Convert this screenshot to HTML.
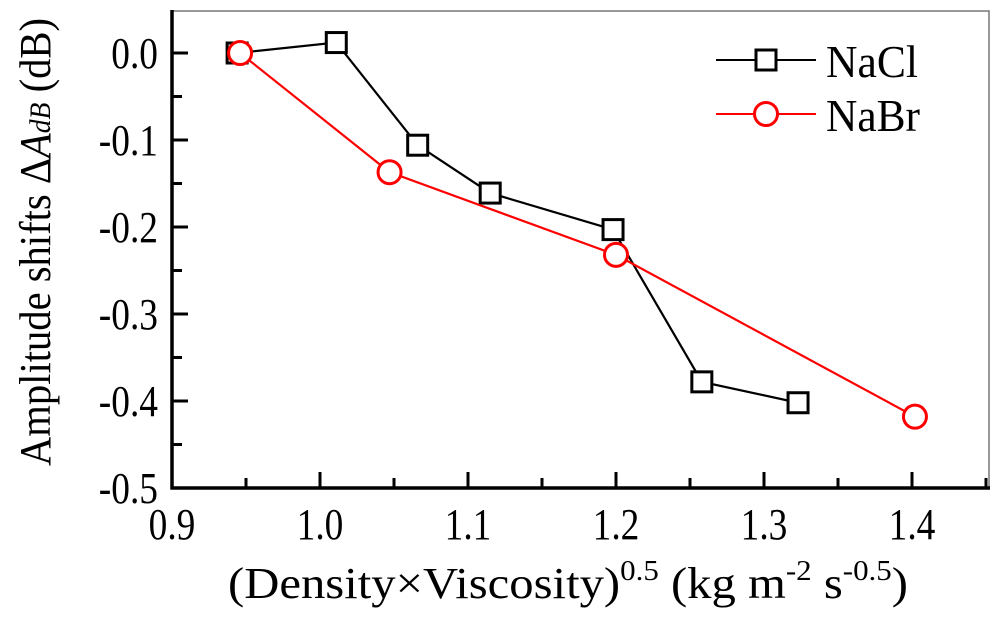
<!DOCTYPE html>
<html><head><meta charset="utf-8"><style>
html,body{margin:0;padding:0;background:#fff;}
svg{display:block;font-family:"Liberation Serif",serif;}
</style></head><body>
<svg id="chart" width="1000" height="619" viewBox="0 0 1000 619" xmlns="http://www.w3.org/2000/svg">
<g id="plot"></g>
<text transform="translate(50,242) rotate(-90)" text-anchor="middle" font-size="44" textLength="448" lengthAdjust="spacingAndGlyphs">Amplitude shifts Δ<tspan font-style="italic">A</tspan><tspan font-style="italic" font-size="30">dB</tspan> (dB)</text>
<text x="568" y="598" text-anchor="middle" font-size="44" textLength="680" lengthAdjust="spacingAndGlyphs">(Density×Viscosity)<tspan font-size="28" dy="-18">0.5</tspan><tspan dy="18"> (kg m</tspan><tspan font-size="28" dy="-18">-2</tspan><tspan dy="18"> s</tspan><tspan font-size="28" dy="-18">-0.5</tspan><tspan dy="18">)</tspan></text>
<g>
<line x1="716" y1="60" x2="816" y2="60" stroke="#000" stroke-width="2"/>
<rect x="756" y="50" width="20" height="20" fill="#fff" stroke="#000" stroke-width="3"/>
<text x="826" y="77" font-size="46" textLength="92" lengthAdjust="spacingAndGlyphs">NaCl</text>
<line x1="716" y1="114" x2="816" y2="114" stroke="#f00" stroke-width="2"/>
<circle cx="766" cy="114" r="11.5" fill="#fff" stroke="#f00" stroke-width="3"/>
<text x="826" y="131" font-size="46" textLength="94" lengthAdjust="spacingAndGlyphs">NaBr</text>
</g>
</svg>
<script>
const naclX=[0.944,1.011,1.066,1.115,1.198,1.258,1.323];
const naclY=[0.0,0.012,-0.106,-0.161,-0.203,-0.378,-0.402];
const nabrX=[0.946,1.047,1.200,1.402];
const nabrY=[0.0,-0.137,-0.232,-0.418];
const xTicks=[0.9,1.0,1.1,1.2,1.3,1.4];
const xTickLabels=["0.9","1.0","1.1","1.2","1.3","1.4"];
const yTicks=[0.0,-0.1,-0.2,-0.3,-0.4,-0.5];
const yTickLabels=["0.0","-0.1","-0.2","-0.3","-0.4","-0.5"];

const L=172,R=989,T=11,B=488;
function xs(v){return L+(v-0.9)*1480;}
function ys(v){return 53-v*870;}
const NS="http://www.w3.org/2000/svg";
const g=document.getElementById('plot');
function mk(tag,attrs,parent){const e=document.createElementNS(NS,tag);for(const k in attrs)e.setAttribute(k,attrs[k]);(parent||g).appendChild(e);return e;}

let e=mk('rect',{x:L,y:T,width:R-L,height:B-T,fill:'none',stroke:'#777','stroke-width':1.5});


e=mk('line',{x1:L,y1:T-1,x2:L,y2:B+1.5,stroke:'#000','stroke-width':3.5});


e=mk('line',{x1:L-1.5,y1:B,x2:R+1,y2:B,stroke:'#000','stroke-width':3.5});



xTicks.forEach((v,i)=>{
  let t=mk('line',{x1:xs(v),y1:B,x2:xs(v),y2:B-16,stroke:'#000','stroke-width':3});
  
  
  let m=mk('line',{x1:xs(v+0.05),y1:B,x2:xs(v+0.05),y2:B-10,stroke:'#000','stroke-width':3});
  
  
  let tx=mk('text',{transform:'translate('+xs(v)+',539) scale(0.85,1)','text-anchor':'middle','font-size':44});
  tx.textContent=xTickLabels[i];
  
  
});
yTicks.forEach((v,i)=>{
  let t=mk('line',{x1:L,y1:ys(v),x2:L+16,y2:ys(v),stroke:'#000','stroke-width':3});
  
  
  if(v>-0.5){let m=mk('line',{x1:L,y1:ys(v-0.05),x2:L+10,y2:ys(v-0.05),stroke:'#000','stroke-width':3});
  
  }
  let tx=mk('text',{transform:'translate(158,'+(ys(v)+15)+') scale(0.85,1)','text-anchor':'end','font-size':44});
  tx.textContent=yTickLabels[i];
  
  
});

let p=mk('polyline',{points:naclX.map((x,i)=>xs(x)+','+ys(naclY[i])).join(' '),fill:'none',stroke:'#000','stroke-width':2.2});


naclX.forEach((x,i)=>{
  let r=mk('rect',{x:xs(x)-10,y:ys(naclY[i])-10,width:20,height:20,fill:'#fff',stroke:'#000','stroke-width':3});
  
  
});
p=mk('polyline',{points:nabrX.map((x,i)=>xs(x)+','+ys(nabrY[i])).join(' '),fill:'none',stroke:'#f00','stroke-width':2.2});


nabrX.forEach((x,i)=>{
  let c=mk('circle',{cx:xs(x),cy:ys(nabrY[i]),r:11.5,fill:'#fff',stroke:'#f00','stroke-width':3});
  
  
});
</script>
</body></html>
